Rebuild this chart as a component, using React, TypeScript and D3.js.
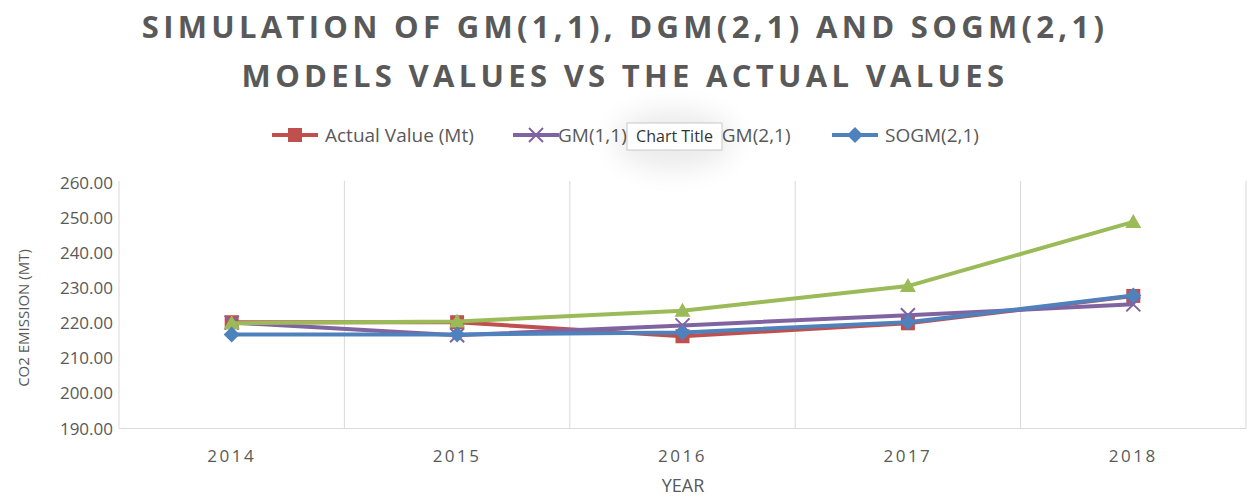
import React from "react";
import * as d3 from "d3";

const years = ["2014", "2015", "2016", "2017", "2018"];
const actual = [220.3, 220.3, 216.3, 220.0, 227.8];
const gm11 = [220.2, 216.6, 219.4, 222.3, 225.4];
const dgm21 = [220.0, 220.5, 223.6, 230.6, 248.9];
const sogm21 = [216.8, 216.8, 217.4, 220.3, 227.9];
const yTicks = [190, 200, 210, 220, 230, 240, 250, 260];

const seriesNames = ["Actual Value (Mt)", "GM(1,1)", "DGM(2,1)", "SOGM(2,1)"];
const seriesData = [actual, gm11, dgm21, sogm21];
const colors = ["#C0504D", "#8064A2", "#9BBB59", "#4F81BD"];
const markers = ["square", "x", "triangle", "diamond"];

const W = 1247;
const H = 498;
const M = { left: 119, right: 1246, top: 183, bottom: 428.5 };
const FONT = "'Open Sans', Lato, sans-serif";
const GREY = "#595959";

function Marker({ type, x, y, color }: { type: string; x: number; y: number; color: string }) {
  if (type === "square") return <rect x={x - 7} y={y - 7} width={14} height={14} fill={color} />;
  if (type === "diamond")
    return <path d={`M${x},${y - 8}L${x + 8},${y}L${x},${y + 8}L${x - 8},${y}Z`} fill={color} />;
  if (type === "triangle")
    return <path d={`M${x},${y - 8}L${x + 8},${y + 6}L${x - 8},${y + 6}Z`} fill={color} />;
  return (
    <path d={`M${x - 7},${y - 7}L${x + 7},${y + 7}M${x - 7},${y + 7}L${x + 7},${y - 7}`} stroke={color} strokeWidth={2} fill="none" />
  );
}

export default function App() {
  const x = d3.scaleBand().domain(years).range([M.left, M.right]).padding(0);
  const y = d3.scaleLinear().domain([190, 260]).range([M.bottom, M.top]);
  const line = d3
    .line<number>()
    .x((_, i) => (x(years[i]) as number) + x.bandwidth() / 2)
    .y((d) => y(d));

  const boundaries = years.map((yr) => x(yr) as number).concat([M.right]);

  const legendItems = [
    { lx: 272, tx: 325 },
    { lx: 513, tx: 558 },
    { lx: 655, tx: 708 },
    { lx: 832, tx: 885 },
  ];

  return (
    <svg width={W} height={H} style={{ position: "absolute", left: 0, top: 0, background: "#fff" }}>
      <defs>
        <filter id="blur" x="-50%" y="-50%" width="200%" height="200%">
          <feGaussianBlur stdDeviation="14" />
        </filter>
      </defs>
      {/* title */}
      <g fontFamily={FONT} fontWeight={700} fontSize={31} fill={GREY} textAnchor="middle" letterSpacing={4.3}>
        <text x={625} y={38}>SIMULATION OF GM(1,1), DGM(2,1) AND SOGM(2,1)</text>
        <text x={625} y={87}>MODELS VALUES VS THE ACTUAL VALUES</text>
      </g>

      {/* gridlines */}
      {boundaries.map((b, i) => (
        <line key={i} x1={b} x2={b} y1={M.top - 2} y2={M.bottom} stroke="#d9d9d9" strokeWidth={1} />
      ))}
      <line x1={M.left} x2={M.right} y1={M.bottom} y2={M.bottom} stroke="#d9d9d9" strokeWidth={1} />

      {/* y ticks */}
      <g fontFamily={FONT} fontSize={17} fill={GREY} textAnchor="end">
        {yTicks.map((t) => (
          <text key={t} x={113} y={y(t) + 6}>
            {t.toFixed(2)}
          </text>
        ))}
      </g>
      {/* x ticks */}
      <g fontFamily={FONT} fontSize={17} fill={GREY} textAnchor="middle" letterSpacing={2.5}>
        {years.map((yr) => (
          <text key={yr} x={(x(yr) as number) + x.bandwidth() / 2} y={462}>
            {yr}
          </text>
        ))}
      </g>
      {/* axis titles */}
      <text x={683} y={492} fontFamily={FONT} fontSize={18} fill={GREY} textAnchor="middle">YEAR</text>
      <text
        transform={`translate(29,318) rotate(-90)`}
        fontFamily={FONT}
        fontSize={15}
        fill={GREY}
        textAnchor="middle"
      >
        CO2 EMISSION (MT)
      </text>

      {/* series */}
      {seriesData.map((data, si) => (
        <g key={si}>
          <path d={line(data) || ""} fill="none" stroke={colors[si]} strokeWidth={4} strokeLinejoin="round" />
          {data.map((v, i) => (
            <Marker
              key={i}
              type={markers[si]}
              x={(x(years[i]) as number) + x.bandwidth() / 2}
              y={y(v)}
              color={colors[si]}
            />
          ))}
        </g>
      ))}

      {/* legend */}
      <g fontFamily={FONT} fontSize={19} fill={GREY}>
        {seriesNames.map((name, i) => (
          <g key={name}>
            <line x1={legendItems[i].lx} x2={legendItems[i].lx + 46} y1={135} y2={135} stroke={colors[i]} strokeWidth={4} />
            <Marker type={markers[i]} x={legendItems[i].lx + 23} y={135} color={colors[i]} />
            <text x={legendItems[i].tx} y={142}>{name}</text>
          </g>
        ))}
      </g>

      {/* tooltip */}
      <ellipse cx={674} cy={140} rx={60} ry={30} fill="#000" opacity={0.08} filter="url(#blur)" />
      <rect x={627} y={123} width={95} height={27} fill="#fff" stroke="#c8c8c8" strokeWidth={1} />
      <text x={674.5} y={142} fontFamily={FONT} fontSize={16} fill="#333" textAnchor="middle">Chart Title</text>
    </svg>
  );
}
